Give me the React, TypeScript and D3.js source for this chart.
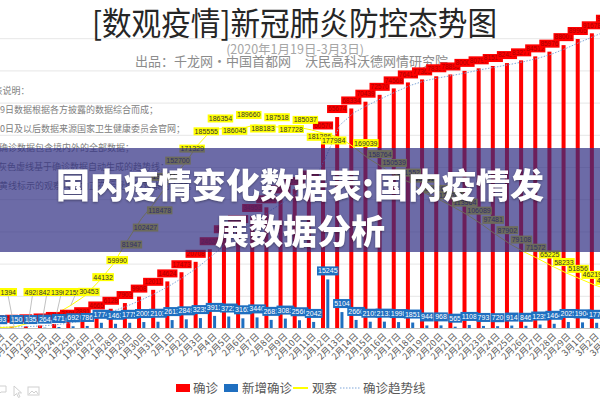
import React from 'react';
import * as d3 from 'd3';

const dates: string[] = [
  '1月19日','1月20日','1月21日','1月22日','1月23日','1月24日','1月25日','1月26日','1月27日','1月28日','1月29日','1月30日','1月31日',
  '2月1日','2月2日','2月3日','2月4日','2月5日','2月6日','2月7日','2月8日','2月9日','2月10日',
  '2月11日','2月12日','2月13日','2月14日','2月15日','2月16日','2月17日','2月18日','2月19日','2月20日',
  '2月21日','2月22日','2月23日','2月24日','2月25日','2月26日','2月27日','2月28日','2月29日',
  '3月1日','3月2日','3月3日'
];

// 确诊 (cumulative)
const confirmed: number[] = [
  300, 393, 543, 678, 942, 1413, 2105, 2891, 4665, 6128, 7903, 9908, 12011,
  14624, 17473, 20708, 24621, 28344, 31507, 34953, 37634, 40717, 43283,
  45325, 60570, 65674, 68334, 70439, 72570, 74568, 76419, 77363, 78331,
  78896, 80004, 80797, 81517, 82431, 83277, 84512, 85976, 88001,
  89905, 91678, 93714
];

// 新增确诊
const newConfirmed: number[] = [
  77, 93, 150, 135, 264, 471, 692, 786, 1774, 1463, 1775, 2005, 2103,
  2613, 2849, 3235, 3913, 3723, 3163, 3446, 2681, 3083, 2566,
  2042, 15245, 5104, 2660, 2105, 2131, 1998, 1851, 944, 968,
  565, 1108, 793, 720, 914, 846, 1235, 1464, 2025,
  1904, 1773, 2036
];

// 观察
const observation: number[] = [
  739, 922, 1394, 4928, 8420, 13967, 21556, 30453, 44132, 59990, 81947, 102427, 118478,
  137594, 152700, 171329, 185555, 186354, 186045, 189660, 188183, 187518, 187728,
  185037, 181386, 177984, 169039, 158764, 150539, 141552, 135881, 126363, 120302,
  113564, 106089, 97481, 87902, 79108, 71572, 65225, 58233, 51856,
  46219, 40651, 36007
];

const titleText = '[数观疫情]新冠肺炎防控态势图';
const subtitleText = '(2020年1月19日-3月3日)';
const bylineLeft = '出品：千龙网•中国首都网';
const bylineRight = '沃民高科沃德网情研究院';
const noteLines: string[] = [
  '图表说明：',
  '1月19日数据根据各方披露的数据综合而成；',
  '1月20日及以后数据来源国家卫生健康委员会官网；',
  '确诊数据包含境内外的全部数据；',
  '灰色虚线基于确诊数据自动生成的趋势线；',
  '黄线标示的观察人数为正在接受医学观察的人数。'
];
const noteStartX: number[] = [-15.5, -19, -19, -1, -2, -1];
const bannerLines: string[] = ['国内疫情变化数据表:国内疫情发', '展数据分析'];
const legendNames: string[] = ['确诊', '新增确诊', '观察', '确诊趋势线'];

const CJK = "'Noto Sans CJK SC', 'Noto Sans', sans-serif";
const NUM = "'Liberation Sans', Arial, sans-serif";
const RED = '#FF0000';
const BLUE = '#1F6FC0';
const YELLOW = '#FFFF00';
const TREND = '#7FA6D9';

function NumLabel(props: { cx: number; cy: number; text: string; fill: string; color: string; fs: number; h: number }) {
  const { cx, cy, text, fill, color, fs, h } = props;
  const w = text.length * fs * 0.56 + 2;
  return (
    <g>
      <rect x={cx - w / 2} y={cy - h / 2} width={w} height={h} fill={fill} />
      <text x={cx} y={cy + fs * 0.36} textAnchor="middle" fontSize={fs} fontFamily={NUM} fill={color}>{text}</text>
    </g>
  );
}

export default function App() {
  const W = 600;
  const H = 400;
  const x = d3.scaleBand<string>().domain(dates).range([-21.2, 615.6]);
  const cx = (d: string) => (x(d) as number) + x.bandwidth() / 2;
  const yL = d3.scaleLinear().domain([0, 100000]).range([328.5, 6.5]);
  const yR = d3.scaleLinear().domain([0, 300000]).range([328.5, 6.5]);
  const base = yL(0);
  const grid = yL.ticks(10).filter((t) => t > 0 && t < 100000);

  const trendPts: [number, number][] = dates.slice(1).map((d, i) => [cx(d), yL((confirmed[i] + confirmed[i + 1]) / 2)]);
  const trendPath = d3.line()(trendPts) || '';
  const obsPts: [number, number][] = dates.map((d, i) => [cx(d), yR(observation[i])]);
  const obsPath = d3.line()(obsPts) || '';
  const peak = d3.maxIndex(observation);

  // label placement rule (mimics the staggered data labels of the original)
  const obsLabelPos = (i: number, px: number, py: number) => {
    let dx = 4;
    let dy = -4;
    if (i <= 2) dx = -6;
    else if (i === peak - 9) dy = 4;
    else if (i === peak - 8 || i === peak - 7) dy = 9;
    else if (i >= peak - 6 && i <= peak + 6) {
      dx = -6;
      if (i === peak - 4) dy = 4;
      else if (i >= peak - 3 && i <= peak + 4) dy = i % 2 === 1 ? -10 : 2;
      else if (i > peak + 4) dy = 3;
    } else if (i > peak + 6) dx = 12;
    return { lx: px + dx, ly: Math.min(py + dy, 292) };
  };

  return (
    <svg width={W} height={H} style={{ position: 'absolute', left: 0, top: 0, background: '#fff' }}>
      <rect x={0} y={0} width={W} height={H} fill="#fff" />
      {grid.map((t) => (
        <line key={t} x1={0} x2={W} y1={yL(t)} y2={yL(t)} stroke="#e0e0e0" strokeWidth={0.8} />
      ))}
      {/* titles */}
      <text x={294.5} y={35} textAnchor="middle" fontSize={32} fontFamily={CJK} fill="#262626" textLength={405} lengthAdjust="spacingAndGlyphs">{titleText}</text>
      <text x={295} y={54} textAnchor="middle" fontSize={12.5} fontFamily={CJK} fill="#a6a6a6">{subtitleText}</text>
      <text x={291} y={66} textAnchor="end" fontSize={13} fontFamily={CJK} fill="#8c8c8c">{bylineLeft}</text>
      <text x={305} y={66} textAnchor="start" fontSize={13} fontFamily={CJK} fill="#8c8c8c">{bylineRight}</text>
      {noteLines.map((t, i) => (
        <text key={i} x={noteStartX[i]} y={94 + i * 19} fontSize={9} fontFamily={CJK} fill="#808080">{t}</text>
      ))}
      {/* bars */}
      {dates.map((d, i) => (
        <rect key={'r' + d} x={cx(d) - 4.5} y={yL(confirmed[i])} width={4} height={base - yL(confirmed[i])} fill={RED} />
      ))}
      {dates.map((d, i) => (
        <rect key={'b' + d} x={cx(d) + 0.8} y={yL(newConfirmed[i])} width={3} height={base - yL(newConfirmed[i])} fill={BLUE} />
      ))}
      <line x1={0} x2={W} y1={base} y2={base} stroke="#bfbfbf" strokeWidth={1} />
      {/* x labels */}
      {dates.map((d) => (
        <text key={'x' + d} transform={`translate(${cx(d) + 5},${337}) rotate(-45)`} textAnchor="end" fontSize={9} fontFamily={CJK} fill="#595959">{d}</text>
      ))}
      {/* trend + observation line */}
      <path d={trendPath} fill="none" stroke={TREND} strokeWidth={1} strokeDasharray="1.5 1.5" />
      <path d={obsPath} fill="none" stroke={YELLOW} strokeWidth={1} />
      {/* red labels */}
      {dates.map((d, i) => (
        <NumLabel key={'rl' + d} cx={cx(d) - 2.5} cy={yL(confirmed[i]) - 8} text={String(confirmed[i])} fill={RED} color="#A80000" fs={6.5} h={8} />
      ))}
      {/* blue labels */}
      {dates.map((d, i) => (
        <NumLabel key={'bl' + d} cx={cx(d) + 2.3} cy={yL(newConfirmed[i]) - 8.5} text={String(newConfirmed[i])} fill={BLUE} color="#fff" fs={7} h={9} />
      ))}
      {/* observation labels */}
      {dates.map((d, i) => {
        const px = cx(d);
        const py = yR(observation[i]);
        const { lx, ly } = obsLabelPos(i, px, py);
        return (
          <g key={'yl' + d}>
            {py - ly > 10 && <line x1={lx} y1={ly + 4} x2={px} y2={py} stroke="#a6a6a6" strokeWidth={0.7} />}
            <NumLabel cx={lx} cy={ly} text={String(observation[i])} fill={YELLOW} color="#333" fs={7} h={8} />
          </g>
        );
      })}
      {/* legend */}
      <rect x={176} y={384} width={14} height={8} fill={RED} />
      <text x={193} y={392.5} fontSize={12.5} fontFamily={CJK} fill="#595959">{legendNames[0]}</text>
      <rect x={224} y={384} width={14} height={8} fill={BLUE} />
      <text x={242} y={392.5} fontSize={12.5} fontFamily={CJK} fill="#595959">{legendNames[1]}</text>
      <line x1={293} x2={308} y1={388} y2={388} stroke={YELLOW} strokeWidth={2} />
      <text x={312} y={392.5} fontSize={12.5} fontFamily={CJK} fill="#595959">{legendNames[2]}</text>
      <line x1={340} x2={360} y1={388} y2={388} stroke={TREND} strokeWidth={1} strokeDasharray="1.5 1.5" />
      <text x={363} y={392.5} fontSize={12.5} fontFamily={CJK} fill="#595959">{legendNames[3]}</text>
      {/* faint toolbar icons */}
      <g fill="none" stroke="#d0d0d0" strokeWidth={1}>
        <path d="M-3,386 h9 v6 h-5 l-3,3 v-3 h-1 z" />
        <path d="M14,386 l0,10 l2.5,-2.5 l2,4 l1.5,-0.8 l-2,-3.8 l3.5,0 z" />
        <rect x={28} y={387} width={11} height={8} />
        <path d="M29,394 l3,-3 l2,2 l2,-2 l2,3" />
      </g>
      {/* banner overlay */}
      <rect x={0} y={148} width={W} height={104} fill="rgb(46,44,130)" fillOpacity={0.7} />
      {bannerLines.map((t, i) => (
        <text key={'bn' + i} x={300} y={198 + i * 46} textAnchor="middle" fontSize={34} fontWeight={900} fontFamily={CJK} fill="#fff" style={{ filter: 'drop-shadow(0px 1px 1px rgba(0,0,0,0.35))' }}>{t}</text>
      ))}
    </svg>
  );
}
